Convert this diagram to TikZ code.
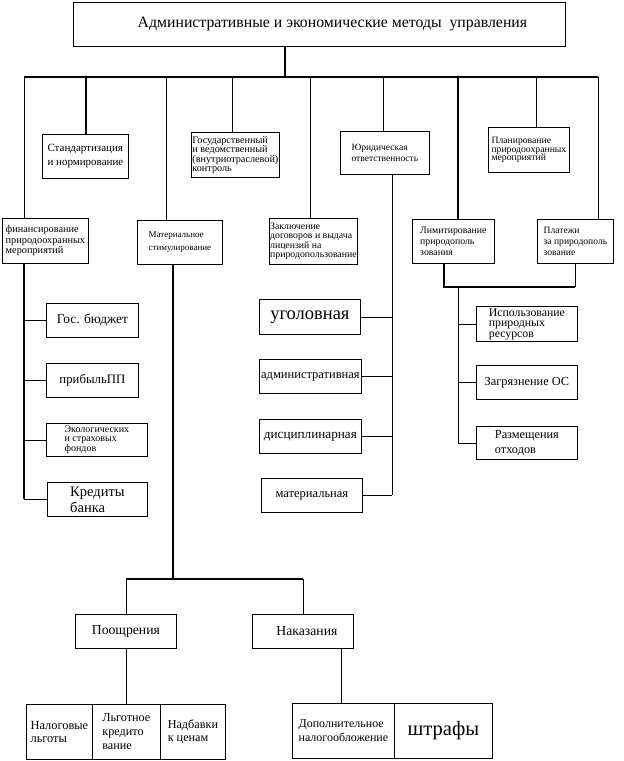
\documentclass[tikz,border=0pt]{standalone}
\usepackage{fontspec}
\setmainfont{Liberation Serif}
\usetikzlibrary{calc}
\newcommand{\fsz}[2]{\fontsize{#1}{#2}\selectfont}
\tikzset{
  box/.style={draw, line width=0.8pt, anchor=north west, align=left,
    inner sep=2pt, font=\fsz{9}{10.5}},
  link/.style={line width=0.8pt},
  trunk/.style={line width=1.8pt},
}

\begin{document}
\begin{tikzpicture}[x=1pt, y=-1pt]
  \useasboundingbox (0,0) rectangle (624,761);

  % ---------- title ----------
  \node[box, align=center, minimum width=492pt, minimum height=44pt, font=\fsz{15.8}{18}] (top) at (73,2)
    {\hspace*{26pt}Административные и экономические методы\ \ управления};

  % ---------- upper row ----------
  \node[box, minimum width=86pt, minimum height=44pt, font=\fsz{11}{14}] (std) at (42,134)
    {Стандартизация\\и нормирование};
  \node[box, minimum width=88pt, minimum height=45pt, font=\fsz{10.2}{9.5}, inner sep=0.5pt] (gos) at (191,132)
    {Государственный\\и ведомственный\\(внутриотраслевой)\\контроль};
  \node[box, minimum width=89pt, minimum height=43pt, font=\fsz{9.5}{10.5}] (jur) at (340,131)
    {Юридическая\\ответственность};
  \node[box, minimum width=81pt, minimum height=45pt, font=\fsz{9.7}{8.8}, inner sep=1pt] (plan) at (488,127)
    {Планирование\\природоохранных\\мероприятий};

  % ---------- second row ----------
  \node[box, minimum width=86pt, minimum height=45pt, font=\fsz{10.3}{10.5}, inner sep=1pt] (fin) at (2,218)
    {финансирование\\природоохранных\\мероприятий};
  \node[box, minimum width=85pt, minimum height=44pt, font=\fsz{9}{13}] (mat) at (137,220)
    {Материальное\\стимулирование};
  \node[box, minimum width=88pt, minimum height=46pt, font=\fsz{9.8}{9.5}, inner sep=0.5pt] (zakl) at (269,218)
    {Заключение\\договоров и выдача\\лицензий на\\природопользование};
  \node[box, minimum width=82pt, minimum height=44pt, font=\fsz{9.8}{11}] (limit) at (412,219)
    {Лимитирование\\природополь\\зования};
  \node[box, minimum width=76pt, minimum height=44pt, font=\fsz{9.6}{11}] (plat) at (537,219)
    {Платежи\\за природополь\\зование};

  % ---------- financing sources ----------
  \node[box, align=center, minimum width=92pt, minimum height=34pt, font=\fsz{13.4}{15}] (byud) at (46,303) {Гос. бюджет};
  \node[box, align=center, minimum width=92pt, minimum height=34pt, font=\fsz{12.8}{15}] (prib) at (46,363) {прибыльПП};
  \node[box, minimum width=101pt, minimum height=33pt, font=\fsz{10}{8.5}] (eko) at (46,423)
    {Экологических\\и страховых\\фондов};
  \node[box, minimum width=100pt, minimum height=34pt, font=\fsz{14.5}{16}] (kred) at (47,482)
    {Кредиты\\банка};

  % ---------- liability ----------
  \node[box, align=center, minimum width=101pt, minimum height=35pt, font=\fsz{18.5}{20}] (ugol) at (259,299) {уголовная};
  \node[box, align=center, minimum width=102pt, minimum height=34pt, font=\fsz{12.5}{13}, inner sep=1pt] (adm) at (259,359) {административная};
  \node[box, align=center, minimum width=102pt, minimum height=34pt, font=\fsz{13.2}{13}, inner sep=1pt] (disc) at (259,419) {дисциплинарная};
  \node[box, align=center, minimum width=101pt, minimum height=34pt, font=\fsz{12.5}{13}] (mater) at (261,478) {материальная};

  % ---------- limits ----------
  \node[box, minimum width=101pt, minimum height=34pt, font=\fsz{11.8}{10.5}] (isp) at (476,306)
    {Использование\\природных\\ресурсов};
  \node[box, align=center, minimum width=101pt, minimum height=34pt, font=\fsz{12.3}{13}, inner sep=1pt] (zagr) at (476,365) {Загрязнение ОС};
  \node[box, minimum width=101pt, minimum height=33pt, font=\fsz{12.3}{15}] (razm) at (476,426)
    {Размещения\\отходов};

  % ---------- incentives and penalties ----------
  \node[box, align=center, minimum width=101pt, minimum height=34pt, font=\fsz{13.7}{15}] (pooshr) at (75,614) {Поощрения};
  \node[box, align=center, minimum width=101pt, minimum height=34pt, font=\fsz{13.7}{15}] (nakaz) at (252,614) {\hspace*{8pt}Наказания};

  \node[box, minimum width=66pt, minimum height=55pt, font=\fsz{12.4}{13}, inner sep=1pt] (nalog) at (26,704) {Налоговые\\льготы};
  \node[box, minimum width=68pt, minimum height=55pt, font=\fsz{12.2}{14}] (lgot) at (92,704) {Льготное\\кредито\\вание};
  \node[box, minimum width=65pt, minimum height=55pt, font=\fsz{12.2}{13}, inner sep=1pt] (nadb) at (160,704) {Надбавки\\к ценам};
  \node[box, minimum width=102pt, minimum height=55pt, font=\fsz{12}{14}, inner sep=0.5pt] (dop) at (292,703)
    {Дополнительное\\налогообложение};
  \node[box, align=center, minimum width=98pt, minimum height=55pt, font=\fsz{20.5}{22}] (shtraf) at (394,703) {штрафы};

  % ---------- main bar ----------
  \coordinate (stem) at (285,77);
  \coordinate (barL) at (24,77);
  \coordinate (barR) at (598,77);
  \draw[trunk] (top.south -| stem) -- (stem);
  \foreach \xx/\nd/\lw in {24/fin/link, 86/std/trunk, 166/mat/link, 232/gos/link, 310/zakl/link,
                           383/jur/link, 458/limit/trunk, 536/plan/link, 598/plat/link} {
    \coordinate (drop) at (\xx,77);
    \draw[\lw] (drop) -- (drop |- \nd.north);
  }
  \draw[trunk] (barL) -- (barR);

  % ---------- financing branch ----------
  \coordinate (finsp) at (24,0);
  \draw[trunk] (fin.south -| finsp) -- (finsp |- kred.west);
  \foreach \nd in {byud, prib, eko, kred}
    \draw[link] (finsp |- \nd.west) -- (\nd.west);

  % ---------- incentive branch ----------
  \coordinate (fork) at (173,579);
  \draw[trunk] (mat.south -| fork) -- (fork);
  \draw[trunk] (pooshr.north |- fork) -- (nakaz.north |- fork);
  \draw[link] (pooshr.north |- fork) -- (pooshr.north);
  \draw[link] (nakaz.north |- fork) -- (nakaz.north);
  \draw[link] (pooshr.south) -- (pooshr.south |- lgot.north);
  \coordinate (naksp) at (341,0);
  \draw[link] (nakaz.south -| naksp) -- (naksp |- dop.north);

  % ---------- liability branch ----------
  \coordinate (jursp) at (392,0);
  \draw[link] (jur.south -| jursp) -- (jursp |- mater.east);
  \foreach \nd in {ugol, adm, disc, mater}
    \draw[link] (jursp |- \nd.east) -- (\nd.east);

  % ---------- limits branch ----------
  \coordinate (lpjoin) at (444,287);
  \coordinate (limsp) at (458,287);
  \draw[trunk] (limit.south -| lpjoin) -- (lpjoin) -- (lpjoin -| plat.south);
  \draw[link] (lpjoin -| plat.south) -- (plat.south);
  \draw[link] (limsp) -- (limsp |- razm.west);
  \foreach \nd in {isp, zagr, razm}
    \draw[link] (limsp |- \nd.west) -- (\nd.west);

\end{tikzpicture}
\end{document}
